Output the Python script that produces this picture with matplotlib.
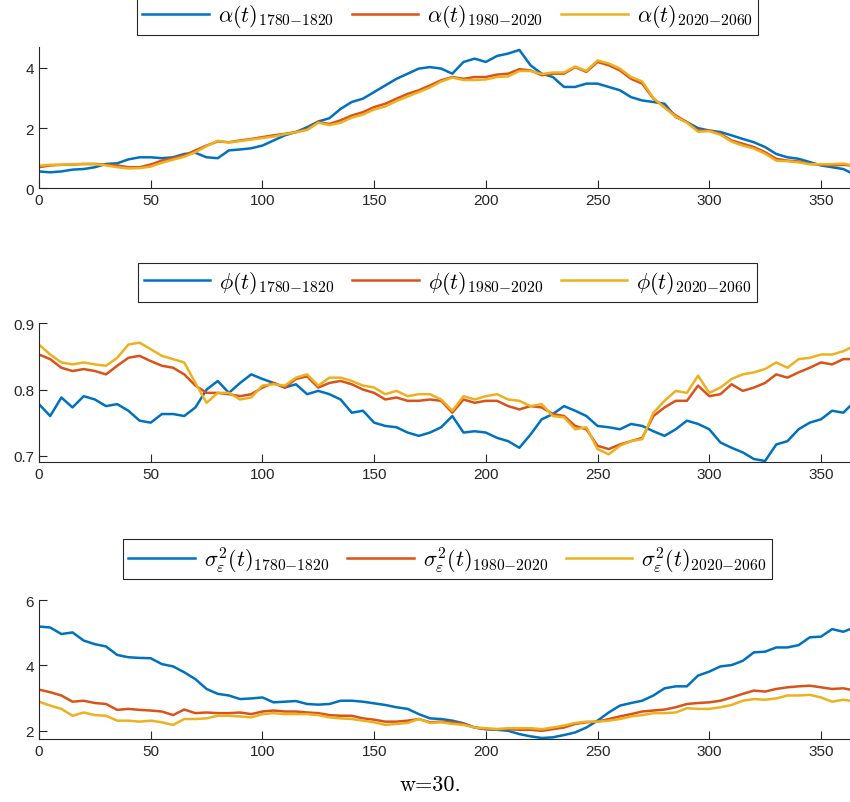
import numpy as np
import matplotlib
matplotlib.use('Agg')
import matplotlib.pyplot as plt

plt.rcParams['mathtext.fontset'] = 'cm'
plt.rcParams['font.family'] = ['Liberation Sans', 'DejaVu Sans']

# day of year (read every 5 days off the picture)
days = list(range(0, 361, 5)) + [363]

alpha_1780 = [0.56, 0.53, 0.56, 0.62, 0.64, 0.70, 0.81, 0.83, 0.96, 1.03, 1.03, 1.00, 1.03, 1.14, 1.18,
              1.03, 1.00, 1.26, 1.29, 1.33, 1.42, 1.59, 1.76, 1.87, 2.03, 2.22, 2.33, 2.64, 2.87, 2.98,
              3.20, 3.42, 3.64, 3.81, 3.98, 4.03, 3.98, 3.81, 4.20, 4.31, 4.20, 4.40, 4.48, 4.60, 4.09,
              3.81, 3.70, 3.37, 3.37, 3.48, 3.48, 3.37, 3.26, 3.03, 2.92, 2.87, 2.81, 2.37, 2.20, 2.00,
              1.92, 1.87, 1.76, 1.64, 1.53, 1.37, 1.14, 1.03, 0.98, 0.87, 0.76, 0.70, 0.64, 0.53]
alpha_1980 = [0.70, 0.76, 0.78, 0.79, 0.81, 0.81, 0.78, 0.76, 0.70, 0.70, 0.79, 0.92, 1.00, 1.09, 1.26,
              1.42, 1.56, 1.53, 1.59, 1.64, 1.70, 1.76, 1.81, 1.87, 1.96, 2.20, 2.14, 2.26, 2.42, 2.53,
              2.70, 2.81, 2.98, 3.14, 3.26, 3.42, 3.59, 3.70, 3.64, 3.70, 3.70, 3.78, 3.81, 3.96, 3.92,
              3.76, 3.81, 3.81, 4.03, 3.87, 4.20, 4.09, 3.92, 3.64, 3.48, 2.98, 2.70, 2.42, 2.20, 1.92,
              1.92, 1.81, 1.59, 1.48, 1.37, 1.20, 0.98, 0.92, 0.89, 0.81, 0.79, 0.76, 0.78, 0.76]
alpha_2020 = [0.75, 0.78, 0.78, 0.80, 0.80, 0.80, 0.76, 0.70, 0.66, 0.67, 0.72, 0.85, 0.95, 1.05, 1.20,
              1.40, 1.58, 1.52, 1.57, 1.62, 1.67, 1.72, 1.80, 1.86, 1.94, 2.18, 2.10, 2.18, 2.35, 2.45,
              2.62, 2.72, 2.90, 3.05, 3.20, 3.35, 3.55, 3.68, 3.60, 3.60, 3.62, 3.70, 3.72, 3.90, 3.90,
              3.80, 3.85, 3.85, 4.05, 3.90, 4.25, 4.15, 3.98, 3.70, 3.55, 3.00, 2.68, 2.38, 2.18, 1.88,
              1.90, 1.78, 1.55, 1.42, 1.32, 1.15, 0.92, 0.90, 0.86, 0.80, 0.80, 0.80, 0.82, 0.78]

phi_1780 = [0.778, 0.760, 0.788, 0.773, 0.790, 0.785, 0.775, 0.778, 0.768, 0.753, 0.750, 0.763, 0.763, 0.760, 0.773,
            0.800, 0.813, 0.795, 0.810, 0.823, 0.816, 0.810, 0.803, 0.808, 0.793, 0.798, 0.793, 0.785, 0.765, 0.768,
            0.750, 0.745, 0.743, 0.735, 0.730, 0.735, 0.743, 0.760, 0.735, 0.737, 0.735, 0.727, 0.722, 0.712, 0.732,
            0.755, 0.763, 0.775, 0.768, 0.760, 0.745, 0.743, 0.740, 0.748, 0.745, 0.737, 0.730, 0.740, 0.753, 0.748,
            0.740, 0.720, 0.712, 0.705, 0.695, 0.692, 0.717, 0.722, 0.740, 0.750, 0.755, 0.768, 0.765, 0.775]
phi_1980 = [0.853, 0.846, 0.833, 0.828, 0.831, 0.828, 0.823, 0.836, 0.848, 0.851, 0.843, 0.836, 0.833, 0.823, 0.806,
            0.795, 0.795, 0.793, 0.790, 0.793, 0.803, 0.810, 0.803, 0.816, 0.820, 0.803, 0.810, 0.813, 0.808, 0.800,
            0.795, 0.785, 0.788, 0.783, 0.783, 0.785, 0.783, 0.765, 0.785, 0.780, 0.783, 0.783, 0.775, 0.770, 0.775,
            0.773, 0.763, 0.760, 0.745, 0.740, 0.715, 0.710, 0.717, 0.722, 0.727, 0.760, 0.773, 0.783, 0.783, 0.806,
            0.790, 0.793, 0.808, 0.798, 0.803, 0.810, 0.823, 0.818, 0.826, 0.833, 0.841, 0.838, 0.846, 0.846]
phi_2020 = [0.868, 0.853, 0.841, 0.838, 0.841, 0.838, 0.836, 0.848, 0.868, 0.871, 0.861, 0.851, 0.846, 0.841, 0.810,
            0.780, 0.795, 0.795, 0.785, 0.788, 0.806, 0.808, 0.806, 0.818, 0.823, 0.806, 0.818, 0.818, 0.813, 0.806,
            0.803, 0.793, 0.798, 0.790, 0.793, 0.793, 0.785, 0.768, 0.790, 0.785, 0.790, 0.793, 0.785, 0.783, 0.775,
            0.778, 0.760, 0.758, 0.740, 0.743, 0.710, 0.702, 0.715, 0.722, 0.725, 0.765, 0.783, 0.798, 0.795, 0.821,
            0.795, 0.803, 0.816, 0.823, 0.826, 0.831, 0.841, 0.833, 0.846, 0.848, 0.853, 0.853, 0.858, 0.863]

sig_1780 = [5.19, 5.16, 4.96, 5.01, 4.76, 4.65, 4.58, 4.32, 4.25, 4.23, 4.22, 4.04, 3.97, 3.79, 3.58,
            3.28, 3.13, 3.08, 2.97, 2.99, 3.02, 2.87, 2.89, 2.91, 2.82, 2.80, 2.82, 2.92, 2.92, 2.89,
            2.84, 2.79, 2.72, 2.67, 2.51, 2.38, 2.36, 2.31, 2.23, 2.10, 2.05, 2.03, 2.00, 1.90, 1.83,
            1.78, 1.80, 1.87, 1.95, 2.10, 2.31, 2.56, 2.77, 2.85, 2.92, 3.08, 3.30, 3.36, 3.36, 3.69,
            3.81, 3.97, 4.01, 4.14, 4.40, 4.42, 4.55, 4.55, 4.62, 4.86, 4.88, 5.11, 5.03, 5.11]
sig_1980 = [3.26, 3.18, 3.08, 2.89, 2.92, 2.85, 2.82, 2.64, 2.67, 2.64, 2.62, 2.59, 2.48, 2.65, 2.54,
            2.56, 2.54, 2.54, 2.56, 2.51, 2.59, 2.62, 2.59, 2.59, 2.56, 2.54, 2.48, 2.46, 2.46, 2.38,
            2.34, 2.28, 2.28, 2.31, 2.36, 2.26, 2.28, 2.26, 2.21, 2.10, 2.05, 2.05, 2.05, 2.03, 2.03,
            2.00, 2.05, 2.10, 2.21, 2.26, 2.28, 2.36, 2.44, 2.51, 2.59, 2.62, 2.65, 2.72, 2.82, 2.85,
            2.87, 2.92, 3.02, 3.13, 3.23, 3.20, 3.28, 3.33, 3.36, 3.38, 3.33, 3.28, 3.30, 3.26]
sig_2020 = [2.89, 2.77, 2.67, 2.46, 2.56, 2.48, 2.46, 2.31, 2.31, 2.28, 2.31, 2.26, 2.18, 2.36, 2.36,
            2.38, 2.46, 2.46, 2.44, 2.41, 2.51, 2.54, 2.51, 2.51, 2.51, 2.48, 2.41, 2.38, 2.36, 2.31,
            2.26, 2.18, 2.21, 2.24, 2.36, 2.24, 2.26, 2.21, 2.18, 2.10, 2.08, 2.05, 2.08, 2.08, 2.08,
            2.05, 2.10, 2.16, 2.24, 2.28, 2.28, 2.31, 2.36, 2.44, 2.48, 2.54, 2.54, 2.56, 2.69, 2.67,
            2.67, 2.72, 2.79, 2.92, 2.97, 2.95, 2.99, 3.08, 3.08, 3.10, 3.02, 2.89, 2.95, 2.92]

periods = ['1780{-}1820', '1980{-}2020', '2020{-}2060']
colors = ['#0072BD', '#D95319', '#EDB120']

panels = [
    (r'\alpha(t)', [alpha_1780, alpha_1980, alpha_2020], (0, 4.7), [0, 2, 4], [0.7643, 0.176], 0.979),
    (r'\phi(t)', [phi_1780, phi_1980, phi_2020], (0.69, 0.9), [0.7, 0.8, 0.9], [0.423, 0.173], 0.647),
    (r'\sigma^2_\varepsilon(t)', [sig_1780, sig_1980, sig_2020], (1.75, 6), [2, 4, 6], [0.0785, 0.173], 0.3026),
]

fig = plt.figure(figsize=(8.5, 8.03), dpi=100)

for sym, series, ylim, yticks, (bottom, height), leg_y in panels:
    ax = fig.add_axes([0.0459, bottom, 0.9541, height])
    for s, c, p in zip(series, colors, periods):
        ax.plot(days, s, color=c, lw=1.8, label=r'$%s_{%s}$' % (sym, p))
    ax.set_xlim(0, 363)
    ax.set_ylim(*ylim)
    ax.set_xticks(range(0, 351, 50))
    ax.set_yticks(yticks)
    ax.spines['top'].set_visible(False)
    ax.spines['right'].set_visible(False)
    for sp in ['left', 'bottom']:
        ax.spines[sp].set_color('#262626')
        ax.spines[sp].set_linewidth(0.8)
    ax.tick_params(direction='in', length=5.5, width=0.8, colors='#262626', labelsize=11)
    leg = ax.legend(loc='center', bbox_to_anchor=(0.5265, leg_y), bbox_transform=fig.transFigure,
                    ncol=3, fontsize=16, frameon=True, fancybox=False, edgecolor='#262626',
                    framealpha=1, handlelength=3.0, handletextpad=0.4, columnspacing=0.8,
                    borderpad=0.25, borderaxespad=0)
    leg.get_frame().set_linewidth(0.8)

fig.text(0.506, 0.022, 'w=30.', family='cmr10', ha='center', va='center', fontsize=16)

fig.savefig('out.png', dpi=100)
